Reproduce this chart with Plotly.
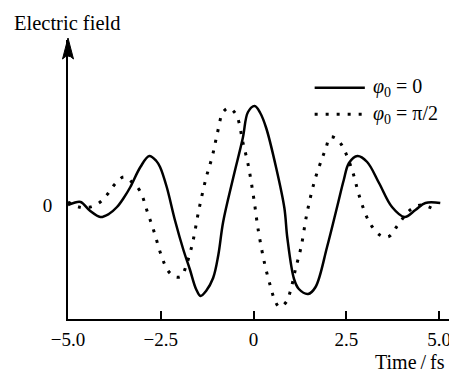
import plotly.graph_objects as go

# ---- data ----
t_solid = [-5.0, -4.85, -4.66, -4.40, -4.13, -3.90, -3.68, -3.50, -3.32, -3.05, -2.81, -2.62,
           -2.52, -2.34, -2.12, -1.89, -1.72, -1.55, -1.43, -1.28, -1.09, -0.95, -0.82, -0.55,
           -0.29, -0.15, 0.03, 0.18, 0.34, 0.61, 0.83, 0.91, 1.09, 1.22, 1.47, 1.67, 1.98,
           2.25, 2.43, 2.57, 2.80, 3.06, 3.38, 3.73, 4.07, 4.36, 4.63, 5.03]
e_solid = [0.00, 0.02, 0.03, -0.06, -0.12, -0.09, -0.02, 0.07, 0.18, 0.38, 0.49, 0.44,
           0.38, 0.18, -0.15, -0.45, -0.64, -0.84, -0.91, -0.86, -0.73, -0.50, -0.17, 0.27,
           0.67, 0.93, 0.99, 0.92, 0.77, 0.37, -0.03, -0.33, -0.74, -0.84, -0.89, -0.82, -0.42,
           -0.02, 0.25, 0.42, 0.49, 0.43, 0.22, -0.02, -0.12, -0.05, 0.02, 0.02]

t_dot = [-5.0, -4.71, -4.40, -4.13, -3.91, -3.73, -3.50, -3.28, -3.06, -2.86, -2.67, -2.49,
         -2.30, -2.10, -1.94, -1.82, -1.65, -1.48, -1.28, -1.11, -0.98, -0.82, -0.66, -0.52,
         -0.42, -0.29, -0.15, 0.00, 0.13, 0.30, 0.46, 0.58, 0.70, 0.88, 1.00, 1.13, 1.28,
         1.44, 1.65, 1.84, 1.95, 2.06, 2.20, 2.32, 2.47, 2.68, 2.84, 3.05, 3.20, 3.40, 3.55,
         3.67, 3.85, 4.05, 4.25, 4.52, 4.79]
e_dot = [0.03, -0.02, -0.02, 0.03, 0.12, 0.21, 0.28, 0.23, 0.14, -0.07, -0.28, -0.50,
         -0.66, -0.72, -0.71, -0.61, -0.39, -0.06, 0.27, 0.49, 0.71, 0.93, 0.97, 0.93,
         0.86, 0.63, 0.41, 0.08, -0.26, -0.59, -0.82, -0.96, -1.02, -0.97, -0.85, -0.64, -0.42,
         -0.08, 0.25, 0.46, 0.57, 0.68, 0.67, 0.63, 0.53, 0.32, 0.10, -0.12, -0.22, -0.30, -0.32,
         -0.31, -0.22, -0.12, -0.04, 0.00, -0.03]

x_tickvals = [-5.0, -2.5, 0, 2.5, 5.0]
x_ticktext = ["\u22125.0", "\u22122.5", "0", "2.5", "5.0"]
y_tickvals = [0]
y_ticktext = ["0"]
series_names = ["<i>\u03c6</i><sub>0</sub> = 0", "<i>\u03c6</i><sub>0</sub> = \u03c0/2"]

FONT = "Liberation Serif, Times New Roman, serif"

fig = go.Figure()
fig.add_trace(go.Scatter(x=t_solid, y=e_solid, mode="lines", name=series_names[0],
                         line=dict(color="black", width=2.5, shape="spline", smoothing=1.0),
                         showlegend=False))
fig.add_trace(go.Scatter(x=t_dot, y=e_dot, mode="lines", name=series_names[1],
                         line=dict(color="black", width=3, dash="3px,8px", shape="spline", smoothing=1.0),
                         showlegend=False))

# the page body adds an 8px margin, so the figure is 8px smaller than the window
fig.update_layout(
    width=449, height=368,
    margin=dict(l=60, r=3, t=32, b=57, autoexpand=False),
    paper_bgcolor="white", plot_bgcolor="white",
    font=dict(family=FONT, size=19, color="black"),
    xaxis=dict(range=[-5.0, 5.4], showgrid=False, zeroline=False, showline=True,
               linecolor="black", linewidth=2, ticks="inside", ticklen=8, tickwidth=1.5,
               tickcolor="black", tickvals=x_tickvals, ticktext=x_ticktext, automargin=False,
               tickfont=dict(family=FONT, size=19), ticklabelstandoff=2),
    yaxis=dict(range=[-1.14, 1.65], showgrid=False, zeroline=False, showline=True,
               linecolor="black", linewidth=1.8, ticks="", tickvals=y_tickvals, automargin=False,
               ticktext=y_ticktext, tickfont=dict(family=FONT, size=19), ticklabelstandoff=10),
)

# arrow head on top of the y axis
fig.add_shape(type="path", xref="paper", yref="paper", xsizemode="pixel", ysizemode="pixel",
              xanchor=0, yanchor=1, path="M0,2 L-5.5,-19 Q0,-13 5.5,-19 Z",
              fillcolor="black", line=dict(color="black", width=1))

# axis titles
fig.add_annotation(text="Electric field", xref="paper", yref="paper", x=-0.145, y=1.061,
                   xanchor="left", yanchor="middle", showarrow=False,
                   font=dict(family=FONT, size=20.5))
fig.add_annotation(text="Time\u2009/\u2009fs", xref="paper", yref="paper", x=0.982, y=-0.154,
                   xanchor="right", yanchor="middle", showarrow=False,
                   font=dict(family=FONT, size=20))

# legend
leg_y = [0.829, 0.734]
leg_dash = ["solid", "3px,8px"]
leg_w = [2.5, 3]
for i in range(2):
    fig.add_shape(type="line", xref="paper", yref="paper", x0=0.639, x1=0.769,
                  y0=leg_y[i], y1=leg_y[i], line=dict(color="black", width=leg_w[i], dash=leg_dash[i]))
    fig.add_annotation(text=series_names[i], xref="paper", yref="paper", x=0.784, y=leg_y[i],
                       xanchor="left", yanchor="middle", showarrow=False,
                       font=dict(family=FONT, size=20))

fig.write_html("out.html")
